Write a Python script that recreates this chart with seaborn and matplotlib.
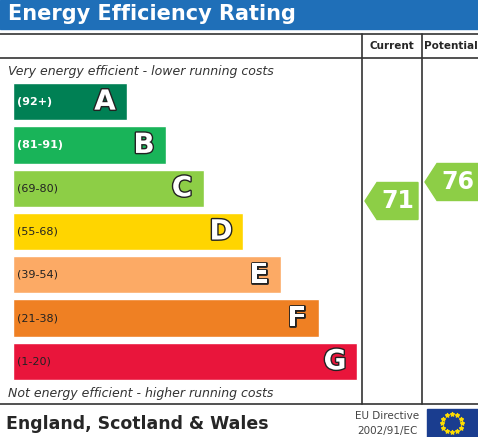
import matplotlib
matplotlib.use("Agg")
import matplotlib.pyplot as plt
import matplotlib.patheffects as pe
import seaborn as sns
import pandas as pd
import numpy as np
from matplotlib.patches import Polygon, Rectangle

bands = ["A", "B", "C", "D", "E", "F", "G"]
ranges = ["(92+)", "(81-91)", "(69-80)", "(55-68)", "(39-54)", "(21-38)", "(1-20)"]
lengths = [114, 153, 191, 230, 268, 306, 344]
colors = ["#008054", "#19b459", "#8dce46", "#ffd500", "#fcaa65", "#ef8023", "#e9153b"]
current = 71
potential = 76

sns.set_style("white")
W, H = 478, 437
fig = plt.figure(figsize=(W/100, H/100), dpi=100)
bg = fig.add_axes([0, 0, 1, 1])
bg.set_xlim(0, W); bg.set_ylim(H, 0); bg.axis("off")

bg.add_patch(Rectangle((0, 0), W, 29, color="#1f6fb8"))
bg.text(8, 14, "Energy Efficiency Rating", color="white", fontsize=15, fontweight="bold", va="center")
lk = dict(color="#333333", lw=1.2)
bg.plot([0, W], [34, 34], **lk)
bg.plot([0, W], [58, 58], **lk)
bg.plot([0, W], [404, 404], **lk)
bg.plot([362, 362], [34, 404], **lk)
bg.plot([422, 422], [34, 404], **lk)
bg.text(392, 46, "Current", fontsize=7.5, fontweight="bold", ha="center", va="center")
bg.text(451, 46, "Potential", fontsize=7.5, fontweight="bold", ha="center", va="center")
bg.text(8, 71, "Very energy efficient - lower running costs", fontsize=9, style="italic", color="#333333", va="center")
bg.text(8, 394, "Not energy efficient - higher running costs", fontsize=9, style="italic", color="#333333", va="center")
bg.text(6, 424, "England, Scotland & Wales", fontsize=12.5, fontweight="bold", va="center")
bg.text(387, 416, "EU Directive", fontsize=7.5, color="#444444", ha="center", va="center")
bg.text(387, 431, "2002/91/EC", fontsize=7.5, color="#444444", ha="center", va="center")
bg.add_patch(Rectangle((427, 409), 51, 28, color="#1a3d8f"))
ang = np.linspace(0, 2*np.pi, 12, endpoint=False)
bg.scatter(452 + 10*np.cos(ang), 423 + 9*np.sin(ang), marker="*", s=8, color="#ffdd00")

ax = fig.add_axes([13/W, 1 - 383/H, 347/W, 303/H])
df = pd.DataFrame({"band": bands, "len": lengths})
sns.barplot(data=df, y="band", x="len", hue="band", palette=colors, orient="h",
            width=0.86, legend=False, ax=ax, saturation=1)
ax.set_xlim(0, 347); ax.axis("off")
for i, (b, r, l) in enumerate(zip(bands, ranges, lengths)):
    tc = "white" if i in (0, 1) else "#222222"
    ax.text(4, i, r, fontsize=8, color=tc, va="center", fontweight="bold" if i in (0, 1) else "normal")
    ax.text(l - 22, i, b, fontsize=20, fontweight="bold", color="white", ha="center", va="center",
            path_effects=[pe.withStroke(linewidth=2, foreground="#222222")])

def arrow(x0, x1, yc, h, val, col):
    pts = [(x0, yc), (x0 + 12, yc - h/2), (x1, yc - h/2), (x1, yc + h/2), (x0 + 12, yc + h/2)]
    bg.add_patch(Polygon(pts, color=col))
    bg.text((x0 + 12 + x1)/2, yc, str(val), color="white", fontsize=17, fontweight="bold", ha="center", va="center")

arrow(365, 418, 201, 37, current, colors[2])
arrow(425, 478, 182, 37, potential, colors[2])

fig.savefig("out.png", dpi=100)
